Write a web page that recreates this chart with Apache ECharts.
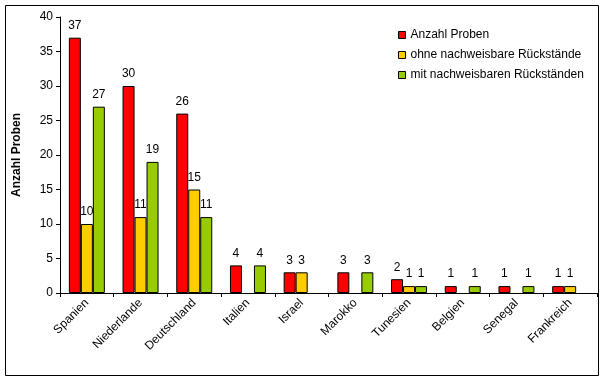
<!DOCTYPE html>
<html>
<head>
<meta charset="utf-8">
<script src="https://cdn.jsdelivr.net/npm/echarts@6/dist/echarts.min.js"></script>
<style>html,body{margin:0;padding:0;background:#fff}#c{width:604px;height:381px}</style>
</head>
<body>
<div id="c"></div>
<script>
var categories = ['Spanien','Niederlande','Deutschland','Italien','Israel','Marokko','Tunesien','Belgien','Senegal','Frankreich'];
var anzahlProben = [37, 30, 26, 4, 3, 3, 2, 1, 1, 1];
var ohneRueckstaende = [10, 11, 15, 0, 3, 0, 1, 0, 0, 1];
var mitRueckstaenden = [27, 19, 11, 4, 0, 3, 1, 1, 1, 0];
var seriesNames = ['Anzahl Proben', 'ohne nachweisbare Rückstände', 'mit nachweisbaren Rückständen'];
var colors = ['#FF0000', '#FFCC00', '#99CC00'];
var yTicks = [0, 5, 10, 15, 20, 25, 30, 35, 40];

var font = 'Liberation Sans, Arial, sans-serif';
var fs = 12;
var chart = echarts.init(document.getElementById('c'), null, {renderer: 'canvas'});
function mk(name, data, color) {
  return {
    name: name, type: 'bar',
    data: data.map(function (v) { return v ? v : {value: v, itemStyle: {borderWidth: 0, opacity: 0}}; }),
    barCategoryGap: '33%', barGap: '0%',
    itemStyle: {color: color, borderColor: '#000', borderWidth: 1},
    label: {
      show: true, position: 'top', distance: 6, color: '#000',
      fontFamily: font, fontSize: fs,
      formatter: function (p) { return p.value ? String(p.value) : ''; }
    }
  };
}
chart.setOption({
  animation: false,
  textStyle: {fontFamily: font},
  graphic: [{type: 'rect', shape: {x: 5.5, y: 5.5, width: 593, height: 370}, style: {fill: 'none', stroke: '#000', lineWidth: 1}, silent: true}],
  grid: {left: 60, right: 7, top: 17, bottom: 88},
  legend: {
    orient: 'vertical', left: 393, top: 24, itemWidth: 7, itemHeight: 7, itemGap: 8,
    icon: 'rect',
    itemStyle: {borderColor: '#000', borderWidth: 1},
    textStyle: {fontFamily: font, fontSize: fs, color: '#000'},
    data: seriesNames
  },
  xAxis: {
    type: 'category', data: categories,
    axisLine: {lineStyle: {color: '#000', width: 1}},
    axisTick: {show: true, length: 4, lineStyle: {color: '#000'}},
    axisLabel: {interval: 0, rotate: 45, color: '#000', fontFamily: font, fontSize: fs, margin: 8}
  },
  yAxis: {
    type: 'value', min: 0, max: 40, interval: 5,
    name: 'Anzahl Proben', nameLocation: 'middle', nameGap: 37,
    nameTextStyle: {fontFamily: font, fontSize: fs, fontWeight: 'bold', color: '#000'},
    axisLine: {show: true, lineStyle: {color: '#000', width: 1}},
    axisTick: {show: true, length: 4, lineStyle: {color: '#000'}},
    axisLabel: {color: '#000', fontFamily: font, fontSize: fs, margin: 7,
      formatter: function (v) { return yTicks.indexOf(v) >= 0 ? String(v) : ''; }},
    splitLine: {show: false}
  },
  series: [
    mk(seriesNames[0], anzahlProben, colors[0]),
    mk(seriesNames[1], ohneRueckstaende, colors[1]),
    mk(seriesNames[2], mitRueckstaenden, colors[2])
  ]
});
</script>
</body>
</html>
